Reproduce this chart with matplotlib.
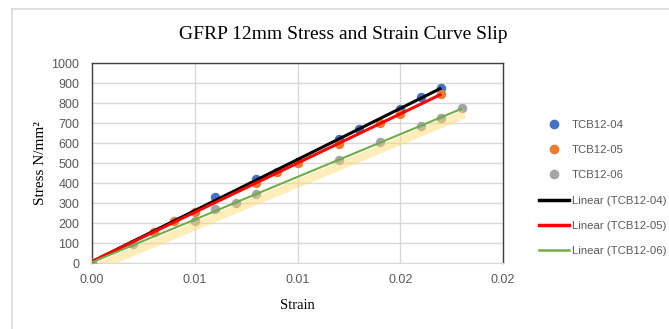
import numpy as np
import matplotlib
matplotlib.use("Agg")
import matplotlib.pyplot as plt
import matplotlib.patheffects as pe
from matplotlib.lines import Line2D

# data
x04 = [0, 0.006, 0.008, 0.010, 0.012, 0.013, 0.015, 0.016, 0.017]
y04 = [0, 328, 420, 506, 618, 668, 768, 832, 873]
x05 = [0, 0.003, 0.004, 0.005, 0.008, 0.009, 0.010, 0.012, 0.014, 0.015, 0.017]
y05 = [0, 157, 212, 257, 398, 453, 498, 595, 698, 743, 845]
x06 = [0, 0.002, 0.005, 0.006, 0.007, 0.008, 0.012, 0.014, 0.016, 0.017, 0.018]
y06 = [0, 93, 212, 268, 302, 345, 515, 603, 685, 723, 777]

names = ["TCB12-04", "TCB12-05", "TCB12-06"]
xticks = [0, 0.005, 0.010, 0.015, 0.020]
xtick_labels = ["0.00", "0.01", "0.01", "0.02", "0.02"]
yticks = list(range(0, 1001, 100))

GRAY_TXT = "#595959"
marker_cols = ["#4472C4", "#ED7D31", "#A5A5A5"]
line_cols = ["#000000", "#FF0000", "#70AD47"]
line_w = [2.2, 2.2, 1.5]

fig = plt.figure(figsize=(6.69, 3.29), dpi=100)
ax = fig.add_axes([0.1375, 0.2006, 0.6144, 0.6079])

series = [(x04, y04), (x05, y05), (x06, y06)]
for (xs, ys), mc in zip(series, marker_cols):
    ax.plot(xs, ys, "o", color=mc, ms=5.8, zorder=3)

for i, (xs, ys) in enumerate(series):
    k, b = np.polyfit(xs, ys, 1)
    xx = np.array([min(xs), max(xs)])
    effects = []
    if i == 2:
        # soft yellow glow under the green trendline
        effects = [pe.SimpleLineShadow(offset=(2, -4), shadow_color="#FFD966",
                                       alpha=0.45, linewidth=6), pe.Normal()]
    ax.plot(xx, k * xx + b, color=line_cols[i], lw=line_w[i], zorder=4,
            solid_capstyle="butt", path_effects=effects)

ax.set_xlim(0, 0.02)
ax.set_ylim(0, 1000)
ax.set_xticks(xticks)
ax.set_xticklabels(xtick_labels)
ax.set_yticks(yticks)
ax.grid(True, color="#D9D9D9", lw=1)
ax.set_axisbelow(True)
ax.tick_params(length=0, labelsize=9, colors=GRAY_TXT, labelfontfamily="Liberation Sans")
ax.tick_params(axis="x", pad=8)
ax.tick_params(axis="y", pad=9)
for s in ["left", "top", "right"]:
    ax.spines[s].set_color("#404040")
    ax.spines[s].set_linewidth(1)
ax.spines["bottom"].set_color("#D9D9D9")

ax.set_xlabel("Strain", fontfamily="Liberation Serif", fontsize=10.5, labelpad=9)
ax.set_ylabel("Stress N/mm²", fontfamily="Liberation Serif", fontsize=11, labelpad=3)
fig.text(0.513, 0.895, "GFRP 12mm Stress and Strain Curve Slip",
         fontfamily="Liberation Serif", fontsize=14, ha="center", va="center")

handles = [Line2D([], [], ls="", marker="o", ms=6, color=c) for c in marker_cols]
handles += [Line2D([], [], color=c, lw=w + 0.3) for c, w in zip(line_cols, line_w)]
labels = names + ["Linear (%s)" % n for n in names]
leg = fig.legend(handles, labels, loc="upper left", bbox_to_anchor=(0.7975, 0.652),
                 frameon=False, handlelength=2.6, handletextpad=0.25,
                 labelspacing=1.33, borderpad=0, prop={"family": "Liberation Sans", "size": 8.2})
for t in leg.get_texts():
    t.set_color(GRAY_TXT)

# chart border (top and left edges only visible)
fig.add_artist(Line2D([12 / 669, 1], [1 - 8.5 / 329] * 2, color="#D9D9D9", lw=1.2))
fig.add_artist(Line2D([12 / 669] * 2, [0, 1 - 8.5 / 329], color="#D9D9D9", lw=1.2))

fig.savefig("out.png", dpi=100)
